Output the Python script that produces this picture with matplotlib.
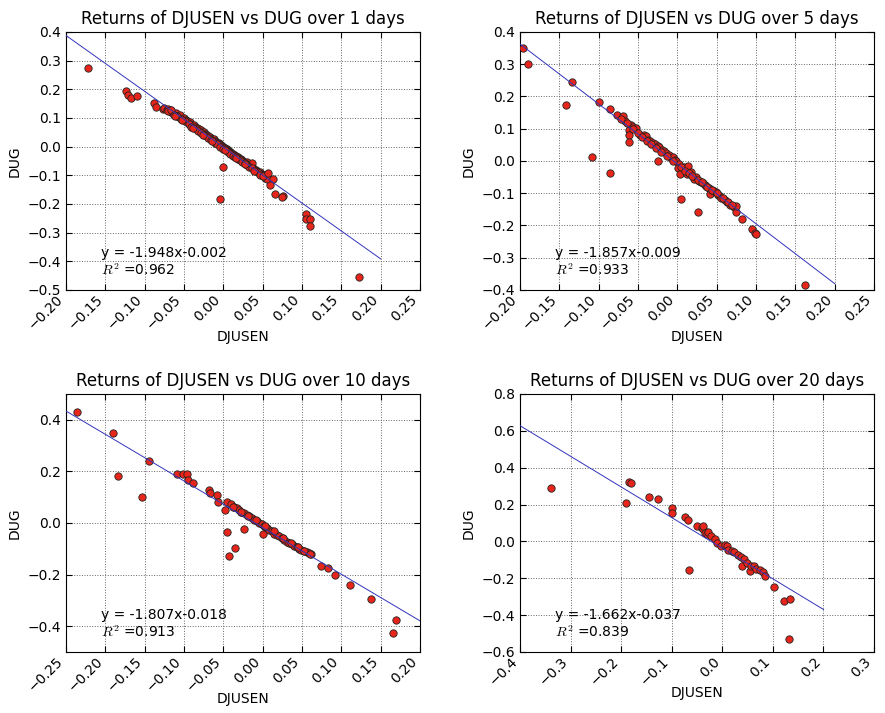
import numpy as np
import matplotlib
matplotlib.use("Agg")
import matplotlib.pyplot as plt

plt.rcParams['font.family'] = ['DejaVu Sans']
plt.rcParams['mathtext.fontset'] = 'cm'

horizons = [1, 5, 10, 20]
slopes = [-1.948, -1.857, -1.807, -1.662]
intercepts = [-0.002, -0.009, -0.018, -0.037]
r2_values = [0.962, 0.933, 0.913, 0.839]

# ---- 1 day ----
x1 = [-0.172, -0.124, -0.121, -0.118, -0.110, -0.088, -0.086, -0.077, -0.0675,
      -0.075, -0.072, -0.070, -0.068, -0.066, -0.064, -0.062, -0.060, -0.058, -0.056,
      -0.055, -0.053, -0.051, -0.050, -0.048, -0.046, -0.045, -0.043, -0.042, -0.040,
      -0.039, -0.037, -0.036, -0.034, -0.033, -0.031, -0.030, -0.029, -0.027, -0.026,
      -0.025, -0.023, -0.022, -0.021, -0.019, -0.018, -0.017, -0.015, -0.014, -0.013,
      -0.012, -0.010, -0.009, -0.008, -0.007, -0.006, -0.005, -0.004, -0.003, -0.002,
      -0.001, 0.000, 0.001, 0.002, 0.003, 0.004, 0.005, 0.006, 0.007, 0.008, 0.009,
      0.010, 0.011, 0.012, 0.013, 0.014, 0.015, 0.016, 0.018, 0.019, 0.020, 0.022,
      0.023, 0.025, 0.026, 0.028, 0.029, 0.031, 0.033, 0.034, 0.036, 0.038, 0.040,
      0.042, 0.044, 0.046, 0.048, 0.050, 0.052, 0.054, 0.056, 0.030, 0.036,
      -0.071, -0.067, -0.063, -0.059, -0.054, -0.049, -0.044, -0.041, -0.035, -0.032,
      -0.028, -0.024, -0.020, -0.016, -0.011, -0.008, -0.004, 0.000, 0.003, 0.006,
      0.009, 0.012, 0.015, 0.018, 0.021, 0.024, 0.027, 0.030, 0.033, 0.037, 0.041,
      0.045, 0.049, 0.053, 0.055, -0.061, -0.052, -0.038, -0.026, -0.014, 0.002,
      0.016, 0.027, 0.039, 0.047, 0.051,
      -0.001, -0.004, 0.0565, 0.063, 0.059, 0.0654, 0.076, 0.075, 0.1053, 0.1045,
      0.110, 0.110, 0.172]
y1 = [0.275, 0.193, 0.179, 0.170, 0.175, 0.153, 0.139, 0.130, 0.128,
      0.135, 0.128, 0.132, 0.125, 0.122, 0.118, 0.110, 0.116, 0.108, 0.104,
      0.110, 0.098, 0.096, 0.100, 0.092, 0.088, 0.084, 0.086, 0.080, 0.076,
      0.072, 0.074, 0.068, 0.064, 0.066, 0.060, 0.056, 0.058, 0.052, 0.048,
      0.050, 0.044, 0.040, 0.042, 0.036, 0.032, 0.034, 0.028, 0.025, 0.022,
      0.026, 0.018, 0.015, 0.014, 0.010, 0.012, 0.008, 0.005, 0.004, 0.002,
      -0.001, -0.003, -0.004, -0.006, -0.010, -0.008, -0.012, -0.014, -0.016, -0.018, -0.020,
      -0.022, -0.024, -0.026, -0.028, -0.030, -0.032, -0.034, -0.037, -0.040, -0.042, -0.044,
      -0.048, -0.050, -0.054, -0.056, -0.060, -0.062, -0.066, -0.068, -0.072, -0.074, -0.080,
      -0.082, -0.088, -0.090, -0.094, -0.098, -0.100, -0.104, -0.106, -0.052, -0.058,
      0.124, 0.126, 0.112, 0.106, 0.096, 0.090, 0.078, 0.070, 0.062, 0.054,
      0.047, 0.040, 0.031, 0.024, 0.014, 0.008, 0.000, -0.008, -0.012, -0.020,
      -0.026, -0.032, -0.036, -0.044, -0.046, -0.052, -0.058, -0.064, -0.070, -0.076, -0.084,
      -0.092, -0.100, -0.108, -0.112, 0.106, 0.092, 0.064, 0.040, 0.018, -0.012,
      -0.040, -0.062, -0.086, -0.098, -0.104,
      -0.072, -0.184, -0.093, -0.114, -0.134, -0.164, -0.172, -0.175, -0.235, -0.253,
      -0.253, -0.278, -0.455]

# ---- 5 days ----
x5 = [-0.196, -0.190, -0.1336, -0.1416, -0.0996, -0.085, -0.108, -0.0856,
      -0.0763, -0.0695, -0.066, -0.059, -0.056, -0.052, -0.061, -0.062, -0.062,
      -0.047, -0.043, -0.040, -0.037, -0.0347, -0.031, -0.028, -0.025, -0.023, -0.020,
      -0.0175, -0.015, -0.0112, -0.008, -0.0055, -0.003, -0.0013, 0.0016, 0.0005,
      0.0043, 0.0034, 0.0089, 0.013, 0.012, 0.0174, 0.021, 0.024, 0.028, 0.030,
      0.033, 0.035, 0.037, 0.040, 0.042, 0.0436, 0.046, 0.049, 0.052, 0.054, 0.056,
      0.060, 0.063, 0.067, 0.072, 0.075, 0.074, -0.025, 0.026,
      -0.072, -0.064, -0.057, -0.050, -0.045, -0.038, -0.033, -0.027, -0.021, -0.013,
      -0.006, 0.004, 0.010, 0.015, 0.019, 0.026, 0.031, 0.038, 0.044, 0.050, 0.058,
      0.065, 0.070,
      0.0827, 0.0954, 0.0989, 0.1005, 0.162]
y5 = [0.350, 0.300, 0.2455, 0.174, 0.183, 0.162, 0.012, -0.038,
      0.143, 0.138, 0.125, 0.113, 0.104, 0.103, 0.096, 0.081, 0.059,
      0.080, 0.081, 0.076, 0.066, 0.063, 0.055, 0.053, 0.045, 0.042, 0.035,
      0.032, 0.024, 0.020, 0.010, 0.012, 0.002, 0.000, -0.010, -0.022,
      -0.117, -0.040, -0.019, -0.017, -0.041, -0.034, -0.055, -0.050, -0.061, -0.064,
      -0.069, -0.075, -0.079, -0.084, -0.102, -0.091, -0.094, -0.096, -0.107, -0.108, -0.115,
      -0.122, -0.126, -0.138, -0.143, -0.159, -0.141, 0.000, -0.157,
      0.130, 0.117, 0.100, 0.086, 0.075, 0.062, 0.052, 0.040, 0.029, 0.014,
      0.000, -0.020, -0.030, -0.038, -0.046, -0.058, -0.066, -0.080, -0.090, -0.100, -0.116,
      -0.128, -0.138,
      -0.180, -0.212, -0.222, -0.225, -0.386]

# ---- 10 days ----
x10 = [-0.2366, -0.1908, -0.1845, -0.145, -0.154, -0.1094, -0.101, -0.0967,
       -0.0954, -0.0883, -0.0687, -0.0667, -0.058, -0.0573, -0.0483, -0.0454,
       -0.0425, -0.0352, -0.0238, 0.0008,
       -0.0454, -0.0403, -0.036, -0.033, -0.030, -0.027, -0.0234, -0.020, -0.017,
       -0.014, -0.0106, -0.007, -0.0043, -0.001, 0.0021, 0.005, 0.0085, 0.012,
       0.0148, 0.018, 0.021, 0.024, 0.0275, 0.031, 0.034, 0.037, 0.040, 0.043,
       0.046, 0.049, 0.053, 0.056, 0.059, 0.062,
       -0.038, -0.028, -0.019, -0.009, 0.003, 0.014, 0.026, 0.036, 0.045, 0.052, 0.060,
       0.0746, 0.083, 0.0916, 0.1115, 0.138, 0.170, 0.166]
y10 = [0.4286, 0.350, 0.183, 0.242, 0.1015, 0.188, 0.188, 0.188,
       0.166, 0.153, 0.126, 0.117, 0.107, 0.082, 0.051, -0.036,
       -0.130, -0.098, -0.023, -0.041,
       0.082, 0.072, 0.063, 0.058, 0.050, 0.044, 0.037, 0.031, 0.025,
       0.018, 0.012, 0.006, 0.000, -0.006, -0.013, -0.019, -0.026, -0.032,
       -0.041, -0.046, -0.052, -0.060, -0.067, -0.072, -0.077, -0.083, -0.090, -0.094,
       -0.100, -0.104, -0.109, -0.113, -0.118, -0.120,
       0.062, 0.044, 0.028, 0.010, -0.013, -0.033, -0.059, -0.078, -0.094, -0.107, -0.122,
       -0.166, -0.175, -0.201, -0.242, -0.296, -0.375, -0.426]

# ---- 20 days ----
x20 = [-0.3386, -0.1845, -0.181, -0.191, -0.145, -0.1264, -0.0998, -0.0998,
       -0.0736, -0.067, -0.0665, -0.0509, -0.041, -0.0378, -0.039, -0.0333,
       -0.031, -0.028, -0.0215, -0.0149, -0.0098, -0.0031, 0.0047, 0.0086, 0.011,
       0.019, 0.024, 0.0307, 0.037, 0.039, 0.0438, 0.049, 0.055, 0.057, 0.062,
       0.0666, 0.0738, 0.0797, 0.085, 0.1018, 0.1213, 0.134, 0.132]
y20 = [0.287, 0.323, 0.316, 0.207, 0.241, 0.229, 0.183, 0.154,
       0.131, 0.116, -0.156, 0.082, 0.071, 0.065, 0.082, 0.044,
       0.040, 0.052, 0.031, 0.011, -0.008, -0.024, -0.022, -0.024, -0.047,
       -0.051, -0.060, -0.073, -0.084, -0.135, -0.098, -0.116, -0.160, -0.131, -0.131,
       -0.149, -0.156, -0.167, -0.189, -0.247, -0.325, -0.311, -0.527]

xs = [x1, x5, x10, x20]
ys = [y1, y5, y10, y20]

line_ranges = [(-0.20, 0.20), (-0.20, 0.20), (-0.25, 0.20), (-0.40, 0.20)]
xlims = [(-0.20, 0.25), (-0.20, 0.25), (-0.25, 0.20), (-0.40, 0.30)]
ylims = [(-0.5, 0.4), (-0.4, 0.4), (-0.5, 0.5), (-0.6, 0.8)]
xticks = [np.arange(-0.20, 0.2501, 0.05), np.arange(-0.20, 0.2501, 0.05),
          np.arange(-0.25, 0.2001, 0.05), np.arange(-0.4, 0.3001, 0.1)]
yticks = [np.arange(-0.5, 0.401, 0.1), np.arange(-0.4, 0.401, 0.1),
          np.arange(-0.4, 0.401, 0.2), np.arange(-0.6, 0.801, 0.2)]

fig = plt.figure(figsize=(8.85, 7.13), dpi=100)
positions = [(0.0746, 0.5933, 0.4, 0.3619), (0.5876, 0.5933, 0.4, 0.3619),
             (0.0746, 0.0856, 0.4, 0.3619), (0.5876, 0.0856, 0.4, 0.3619)]

for i in range(4):
    ax = fig.add_axes(positions[i])
    ax.scatter(xs[i], ys[i], s=28, c='#e8251b', edgecolors='#222222',
               linewidths=0.6, zorder=3)
    lx = np.array(line_ranges[i])
    ax.plot(lx, slopes[i] * lx + intercepts[i], color='#3333bb', lw=0.7, zorder=4)
    ax.set_xticks(np.round(xticks[i], 2))
    ax.set_yticks(np.round(yticks[i], 2))
    ax.set_xlim(*xlims[i])
    ax.set_ylim(*ylims[i])
    ax.grid(True, linestyle=':', color='#666666', linewidth=0.7)
    ax.set_axisbelow(True)
    ax.tick_params(direction='in', top=True, right=True, labelsize=10, length=4)
    ax.tick_params(axis='x', pad=2)
    for lab in ax.get_xticklabels():
        lab.set_rotation(45)
        lab.set_ha('right')
    ax.set_title('Returns of DJUSEN vs DUG over %d days' % horizons[i], fontsize=12)
    ax.set_xlabel('DJUSEN', fontsize=10, labelpad=-2)
    ax.set_ylabel('DUG', fontsize=10)
    ax.text(0.1, 0.145, 'y = %.3fx%.3f' % (slopes[i], intercepts[i]),
            transform=ax.transAxes, fontsize=10, va='center', zorder=5)
    ax.text(0.1, 0.075, '$R^2$ =%.3f' % r2_values[i],
            transform=ax.transAxes, fontsize=10, va='center', zorder=5)

fig.savefig('out.png', dpi=100)
